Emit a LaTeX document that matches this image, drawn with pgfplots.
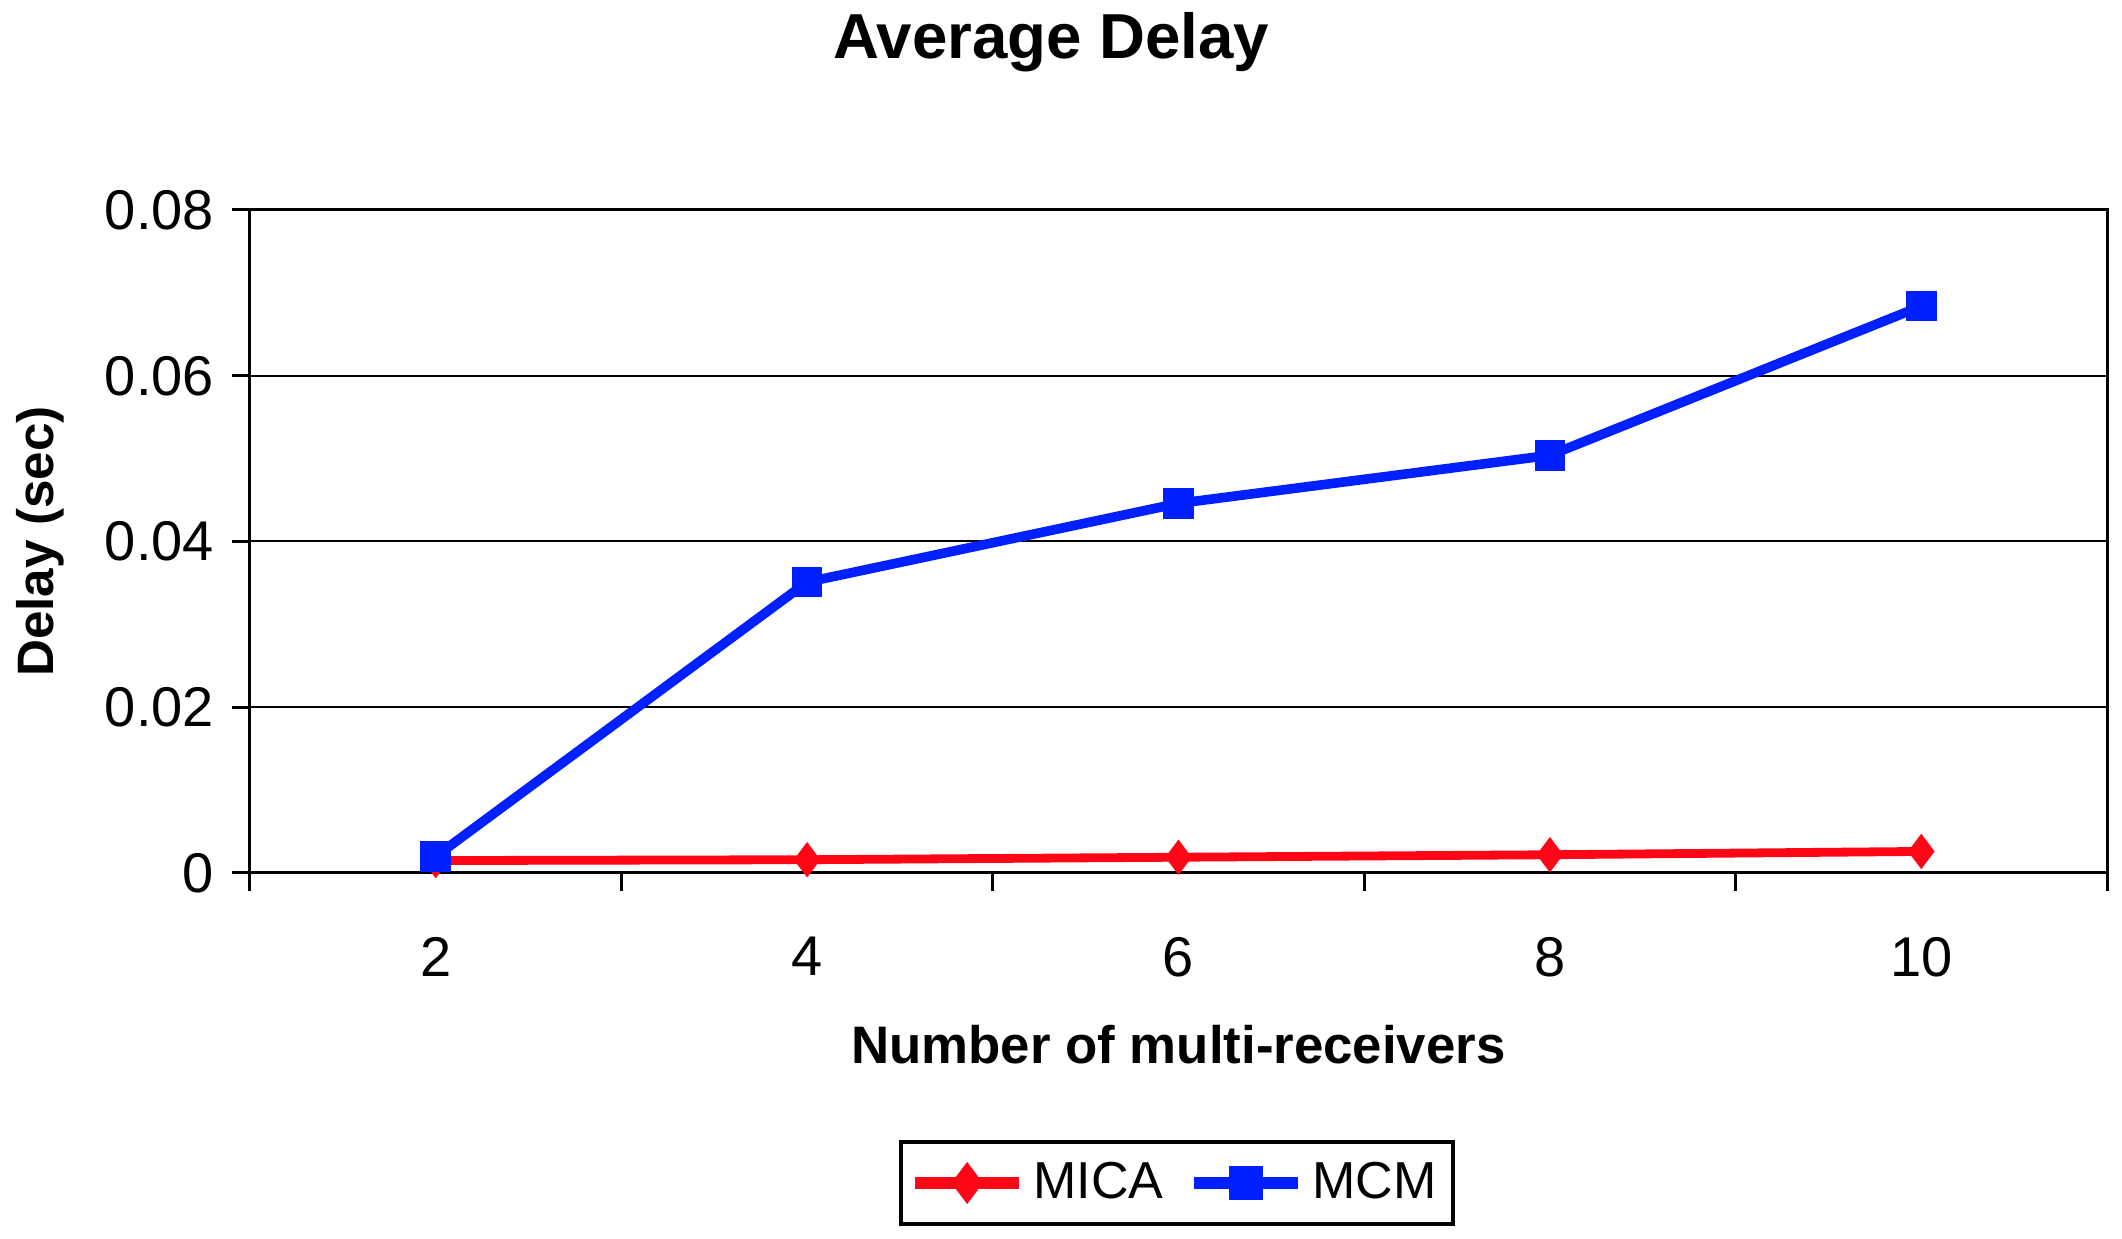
\documentclass[border=0pt]{standalone}
\usepackage{pgfplots}
\pgfplotsset{compat=1.18}
\usepackage{fontspec}
\setmainfont{Liberation Sans}
\definecolor{micared}{RGB}{255,5,22}
\definecolor{mcmblue}{RGB}{0,32,255}
\begin{document}
\begin{tikzpicture}
\useasboundingbox (0,0) rectangle (530.5pt,309.75pt);
\begin{axis}[
  at={(62.5pt,91.5pt)}, anchor=south west,
  scale only axis, width=464.25pt, height=165.75pt,
  xmin=1, xmax=11, ymin=0, ymax=0.08,
  xtick={2,4,6,8,10},
  minor xtick={1,3,5,7,9,11},
  ytick={0,0.02,0.04,0.06,0.08},
  yticklabels={0,0.02,0.04,0.06,0.08},
  scaled y ticks=false,
  xtick pos=bottom, ytick pos=left,
  major x tick style={draw=none},
  tick align=outside,
  major tick length=4.5pt, minor tick length=4.5pt,
  every tick/.style={black, line width=0.75pt},
  axis line style={line width=0.75pt},
  ymajorgrids, grid style={black, line width=0.5pt},
  tick label style={font=\fontsize{14}{15}\selectfont},
  /pgf/number format/assume math mode=true,
  xticklabel style={yshift=-8pt},
  yticklabel style={xshift=-1pt},
  xlabel={\bfseries Number of multi-receivers},
  ylabel={\bfseries Delay (sec)},
  xlabel style={font=\fontsize{13.2}{15}\selectfont, at={(axis description cs:0.5,-0.259)}, anchor=center},
  ylabel style={font=\fontsize{12.8}{15}\selectfont, at={(axis description cs:-0.113,0.5)}, anchor=center},
  legend columns=2,
  legend style={at={(axis description cs:0.499,-0.4676)}, anchor=center, draw=black, line width=1pt,
    font=\fontsize{13}{15}\selectfont, inner xsep=2pt, inner ysep=3pt,
    /tikz/every even column/.append style={column sep=4pt}},
  legend image code/.code={\draw[#1, line width=3.2pt, mark repeat=2, mark phase=2] plot coordinates {(0pt,0pt) (13pt,0pt) (26pt,0pt)};},
]
\addplot[micared, line width=2.2pt, mark=diamond*, mark size=2.6pt, mark options={solid}] coordinates {
 (2,0.0015) (4,0.0016) (6,0.0019) (8,0.0022) (10,0.0026)};
\addlegendentry{MICA}
\addplot[mcmblue, line width=2.4pt, mark=square*, mark size=2.6pt] coordinates {
 (2,0.0020) (4,0.0351) (6,0.0446) (8,0.0504) (10,0.0684)};
\addlegendentry{MCM}
\end{axis}
\node[font=\fontsize{15.9}{18}\selectfont\bfseries] at (262.8pt,299.2pt) {Average Delay};
\end{tikzpicture}
\end{document}
